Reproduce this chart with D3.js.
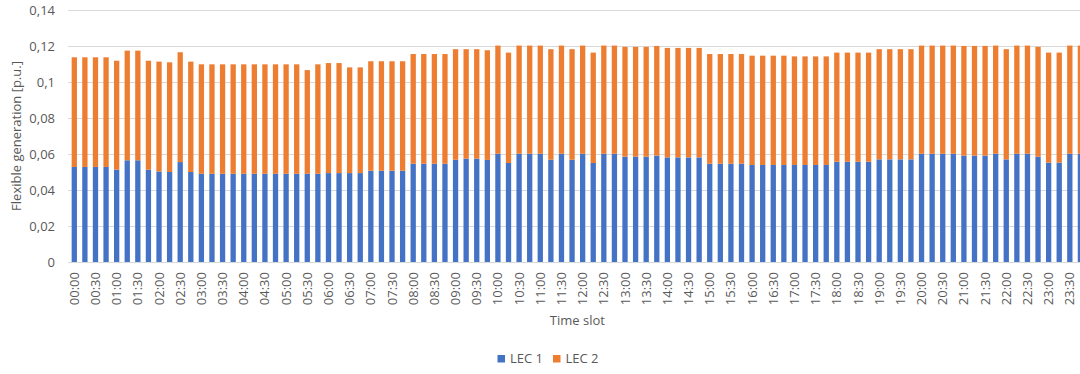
<!DOCTYPE html>
<html>
<head>
<meta charset="utf-8">
<script src="https://cdn.jsdelivr.net/npm/d3@7"></script>
<style>
  html, body { margin: 0; padding: 0; background: #fff; }
  svg { display: block; }
  text { font-family: "Open Sans", "Liberation Sans", sans-serif; fill: #595959; }
</style>
</head>
<body>
<svg id="chart" width="1080" height="374"></svg>
<script>
// ---- data ----
const seriesNames = ["LEC 1", "LEC 2"];
const seriesColors = ["#4472C4", "#ED7D31"];

const lec1 = [
  0.0527, 0.0527, 0.0527, 0.0527, 0.0512, 0.0564, 0.0564, 0.0512,
  0.0502, 0.0499, 0.0554, 0.0499, 0.0489, 0.0489, 0.0489, 0.0489,
  0.0489, 0.0489, 0.0489, 0.0489, 0.0489, 0.0489, 0.0489, 0.0489,
  0.0493, 0.0493, 0.0493, 0.0493, 0.0506, 0.0506, 0.0506, 0.0506,
  0.0545, 0.0545, 0.0545, 0.0545, 0.0567, 0.0573, 0.0573, 0.0566,
  0.0600, 0.0549, 0.0600, 0.0600, 0.0600, 0.0567, 0.0600, 0.0567,
  0.0600, 0.0549, 0.0600, 0.0600, 0.0584, 0.0584, 0.0584, 0.0590,
  0.0580, 0.0580, 0.0580, 0.0580, 0.0545, 0.0545, 0.0545, 0.0545,
  0.0538, 0.0538, 0.0538, 0.0538, 0.0538, 0.0538, 0.0538, 0.0538,
  0.0556, 0.0556, 0.0556, 0.0556, 0.0569, 0.0569, 0.0569, 0.0569,
  0.0600, 0.0600, 0.0600, 0.0600, 0.0590, 0.0590, 0.0590, 0.0600,
  0.0569, 0.0600, 0.0600, 0.0584, 0.0551, 0.0551, 0.0600, 0.0600
];
const lec2 = [
  0.0608, 0.0608, 0.0608, 0.0608, 0.0604, 0.0608, 0.0608, 0.0604,
  0.0609, 0.0608, 0.0609, 0.0612, 0.0607, 0.0607, 0.0607, 0.0607,
  0.0607, 0.0607, 0.0607, 0.0607, 0.0607, 0.0607, 0.0575, 0.0607,
  0.0610, 0.0610, 0.0586, 0.0586, 0.0607, 0.0607, 0.0607, 0.0607,
  0.0608, 0.0608, 0.0608, 0.0608, 0.0613, 0.0607, 0.0607, 0.0608,
  0.0600, 0.0612, 0.0600, 0.0600, 0.0600, 0.0613, 0.0600, 0.0613,
  0.0600, 0.0612, 0.0600, 0.0600, 0.0609, 0.0609, 0.0609, 0.0608,
  0.0607, 0.0607, 0.0607, 0.0607, 0.0608, 0.0608, 0.0608, 0.0608,
  0.0606, 0.0606, 0.0606, 0.0606, 0.0602, 0.0602, 0.0602, 0.0602,
  0.0605, 0.0605, 0.0605, 0.0605, 0.0611, 0.0611, 0.0611, 0.0611,
  0.0600, 0.0600, 0.0600, 0.0600, 0.0608, 0.0608, 0.0608, 0.0600,
  0.0611, 0.0600, 0.0600, 0.0609, 0.0610, 0.0610, 0.0600, 0.0600
];

// 15-minute time slots (category labels)
const categories = [];
for (let h = 0; h < 24; h++) {
  for (const m of ["00", "15", "30", "45"]) categories.push(String(h).padStart(2, "0") + ":" + m);
}
// x tick labels shown (every 30 minutes)
const xTickLabels = [
  "00:00","00:30","01:00","01:30","02:00","02:30","03:00","03:30",
  "04:00","04:30","05:00","05:30","06:00","06:30","07:00","07:30",
  "08:00","08:30","09:00","09:30","10:00","10:30","11:00","11:30",
  "12:00","12:30","13:00","13:30","14:00","14:30","15:00","15:30",
  "16:00","16:30","17:00","17:30","18:00","18:30","19:00","19:30",
  "20:00","20:30","21:00","21:30","22:00","22:30","23:00","23:30"
];
const yTickValues = [0, 0.02, 0.04, 0.06, 0.08, 0.10, 0.12, 0.14];
const yTickLabels = ["0", "0,02", "0,04", "0,06", "0,08", "0,1", "0,12", "0,14"];

const xTitle = "Time slot";
const yTitle = "Flexible generation [p.u.]";

// ---- layout ----
const svg = d3.select("#chart");
const plotLeft = 69, plotRight = 1085.7, plotTop = 9.5, plotBottom = 262;

const x = d3.scaleBand().domain(categories).range([plotLeft, plotRight])
  .paddingInner(0.5).paddingOuter(0.25);
const y = d3.scaleLinear().domain([0, 0.14]).range([plotBottom, plotTop]);

// gridlines
svg.append("g").selectAll("line").data(yTickValues).join("line")
  .attr("x1", 68).attr("x2", 1080)
  .attr("y1", d => Math.round(y(d)) + 0.5).attr("y2", d => Math.round(y(d)) + 0.5)
  .attr("stroke", "#D9D9D9").attr("stroke-width", 1);

// y tick labels
svg.append("g").selectAll("text").data(yTickValues).join("text")
  .attr("x", 55).attr("y", d => y(d))
  .attr("text-anchor", "end").attr("dominant-baseline", "central")
  .style("font-size", "13px")
  .text((d, i) => yTickLabels[i]);

// stacked bars
const table = categories.map((c, i) => ({ slot: c, "LEC 1": lec1[i], "LEC 2": lec2[i] }));
const stacked = d3.stack().keys(seriesNames)(table);

svg.append("g").selectAll("g").data(stacked).join("g")
  .attr("fill", (d, i) => seriesColors[i])
  .selectAll("rect").data(d => d).join("rect")
  .attr("x", d => x(d.data.slot))
  .attr("width", x.bandwidth())
  .attr("y", d => y(d[1]))
  .attr("height", d => y(d[0]) - y(d[1]));

// x tick labels (rotated)
const labelSlots = categories.filter(c => xTickLabels.includes(c));
svg.append("g").selectAll("text").data(labelSlots).join("text")
  .attr("transform", d => `translate(${x(d) + x.bandwidth() / 2},272) rotate(-90)`)
  .attr("text-anchor", "end").attr("dy", "0.35em")
  .style("font-size", "13px")
  .text(d => d);

// axis titles
svg.append("text")
  .attr("x", (plotLeft + plotRight) / 2).attr("y", 325)
  .attr("text-anchor", "middle").style("font-size", "13px")
  .text(xTitle);

svg.append("text")
  .attr("transform", `translate(21,136) rotate(-90)`)
  .attr("text-anchor", "middle").style("font-size", "13px")
  .text(yTitle);

// legend
const legend = svg.append("g").selectAll("g").data(seriesNames).join("g")
  .attr("transform", (d, i) => `translate(${497.5 + i * 55.5},355)`);
legend.append("rect").attr("width", 7.5).attr("height", 7.5)
  .attr("fill", (d, i) => seriesColors[i]);
legend.append("text").attr("x", 12.5).attr("y", 8.3)
  .style("font-size", "13px").text(d => d);
</script>
</body>
</html>
